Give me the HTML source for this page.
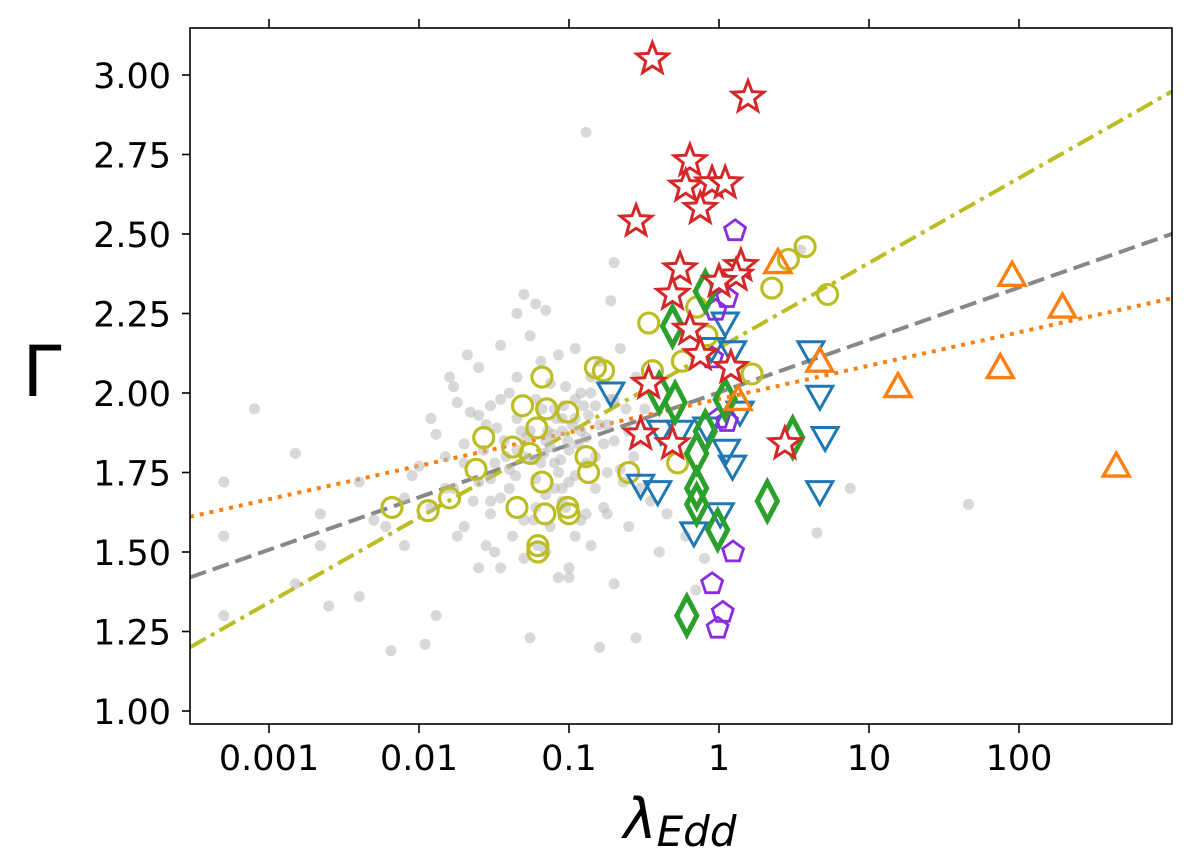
<!DOCTYPE html>
<html><head><meta charset="utf-8"><style>
html,body{margin:0;padding:0;background:#fff;}
svg{display:block;font-family:"DejaVu Sans","Liberation Sans",sans-serif;}
</style></head><body>
<svg id="chart" width="1200" height="868" viewBox="0 0 1200 868" xmlns="http://www.w3.org/2000/svg">
<defs><clipPath id="clip"><rect x="190" y="28" width="982" height="696"/></clipPath></defs>
<rect x="190" y="28" width="982" height="696" fill="#fff"/>
<g id="lines" clip-path="url(#clip)"></g>
<g id="marks" clip-path="url(#clip)"></g>
<rect x="190" y="28" width="982" height="696" fill="none" stroke="#000" stroke-width="1.6"/>
<g id="axes"></g>
<text x="42" y="396" font-size="70" text-anchor="middle">Γ</text>
<text x="680" y="838" font-size="56" font-style="italic" text-anchor="middle">λ<tspan font-size="42" dy="8">Edd</tspan></text>
</svg>
<script>
const xTicks=[0.001,0.01,0.1,1,10,100];
const xTickLabels=["0.001","0.01","0.1","1","10","100"];
const yTicks=[1.00,1.25,1.50,1.75,2.00,2.25,2.50,2.75,3.00];
const yTickLabels=["1.00","1.25","1.50","1.75","2.00","2.25","2.50","2.75","3.00"];
const grayX=[0.0008,0.0005,0.0005,0.0005,0.0015,0.0015,0.0022,0.0022,0.0025,0.004,0.004,0.0065,0.005,0.008,0.009,0.01,0.011,0.012,0.013,0.013,0.015,0.016,0.017,0.018,0.02,0.02,0.021,0.023,0.025,0.025,0.028,0.028,0.03,0.03,0.032,0.035,0.035,0.037,0.04,0.04,0.042,0.045,0.045,0.05,0.05,0.05,0.055,0.055,0.06,0.06,0.06,0.062,0.065,0.07,0.07,0.07,0.075,0.075,0.08,0.08,0.085,0.09,0.09,0.095,0.1,0.1,0.1,0.11,0.11,0.11,0.12,0.12,0.13,0.13,0.13,0.14,0.14,0.15,0.15,0.16,0.16,0.17,0.18,0.18,0.19,0.2,0.2,0.2,0.22,0.22,0.25,0.25,0.28,0.28,0.3,0.32,0.35,0.4,0.45,0.5,0.6,0.7,0.8,3.5,4.5,7.5,46,0.04,0.045,0.055,0.065,0.075,0.085,0.09,0.1,0.12,0.135,0.15,0.06,0.08,0.095,0.03,0.035,0.025,0.017,0.012,0.008,0.006,0.018,0.032,0.05,0.07,0.11,0.085,0.025,0.2,0.24,0.3,0.035,0.045,0.11,0.14,0.18,0.052,0.058,0.068,0.078,0.088,0.098,0.105,0.115,0.125,0.048,0.038,0.033,0.027,0.022,0.044,0.066,0.072,0.082,0.092,0.16,0.19,0.23,0.27,0.015,0.02,0.03,0.058,0.09,0.13,0.17];
const grayY=[1.95,1.72,1.55,1.30,1.81,1.40,1.62,1.52,1.33,1.36,1.72,1.19,1.60,1.52,1.74,1.77,1.21,1.92,1.30,1.87,1.80,2.05,2.02,1.97,1.84,1.58,2.12,1.66,2.08,1.72,1.90,1.52,1.96,1.62,1.78,2.15,1.45,1.85,2.00,1.70,1.55,2.25,1.92,2.31,1.80,1.60,2.18,1.23,2.28,1.98,1.73,1.52,2.10,2.26,1.85,1.68,2.03,1.58,1.95,1.78,2.12,1.88,1.66,2.02,1.82,1.45,1.42,2.14,1.92,1.74,2.00,1.60,2.82,1.86,1.78,2.05,1.52,1.96,1.70,1.20,2.10,1.84,1.90,1.62,2.29,2.41,1.98,1.40,1.76,2.14,1.88,1.58,1.23,2.05,1.70,1.95,1.66,1.50,1.62,1.85,1.55,1.38,1.48,2.45,1.56,1.70,1.65,1.76,1.82,1.88,1.78,1.83,1.75,1.92,1.72,1.88,1.93,1.80,1.64,1.70,1.64,1.73,1.67,1.93,1.70,1.64,1.67,1.58,1.55,1.50,1.48,1.50,1.55,1.42,1.45,1.85,1.95,1.85,1.98,2.05,1.98,2.00,1.75,1.86,1.79,1.81,1.87,1.79,1.85,1.90,1.84,1.96,1.88,1.80,1.89,1.82,1.94,1.74,1.95,1.88,1.92,1.96,1.90,1.98,1.72,1.80,1.70,1.78,1.66,1.60,1.70,1.62,1.64];
const circX=[0.0066,0.0115,0.016,0.024,0.027,0.042,0.049,0.066,0.071,0.061,0.098,0.13,0.135,0.15,0.17,0.066,0.045,0.069,0.098,0.1,0.062,0.062,0.055,0.34,0.36,0.57,0.71,1.66,2.25,2.9,3.75,5.3,0.25,0.53,0.83];
const circY=[1.64,1.63,1.67,1.76,1.86,1.83,1.96,2.05,1.95,1.89,1.94,1.80,1.75,2.08,2.07,1.72,1.64,1.62,1.64,1.62,1.52,1.50,1.81,2.22,2.07,2.10,2.27,2.06,2.33,2.42,2.46,2.31,1.75,1.78,2.18];
const triDownX=[1.1,0.89,1.23,0.19,4.1,4.7,5.1,4.7,0.41,0.3,0.39,1.12,1.23,1.38,0.68,1.02,0.55,0.83];
const triDownY=[2.22,2.14,2.13,2.00,2.13,1.99,1.86,1.69,1.88,1.71,1.69,1.82,1.77,1.94,1.56,1.62,1.88,1.89];
const pentX=[1.28,1.13,0.95,0.9,1.0,1.13,1.24,0.9,1.06,0.98];
const pentY=[2.51,2.30,2.26,2.11,1.92,1.91,1.50,1.40,1.31,1.26];
const diamX=[0.81,0.49,0.40,0.51,1.1,0.81,0.71,0.71,0.71,0.98,2.1,3.1,0.61];
const diamY=[2.32,2.21,2.00,1.97,1.98,1.88,1.81,1.70,1.65,1.57,1.66,1.86,1.30];
const triUpX=[1.34,2.47,90,195,4.7,15.6,75,445];
const triUpY=[1.98,2.41,2.37,2.27,2.10,2.02,2.08,1.77];
const starX=[0.36,1.56,0.64,0.6,0.9,1.1,0.75,0.28,0.55,1.4,1.3,0.49,1.0,0.64,0.34,1.2,0.75,0.3,0.49,2.75];
const starY=[3.05,2.93,2.73,2.65,2.66,2.66,2.58,2.54,2.39,2.40,2.37,2.31,2.35,2.20,2.03,2.08,2.12,1.87,1.84,1.84];
const fitSlopes=[0.165,0.267,0.105];
const fitIntercepts=[2.002,2.142,1.981];

const NS="http://www.w3.org/2000/svg";
const X0=190,X1=1172;
function xs(v){return 719+150*Math.log10(v);}
function ys(v){return 711-(v-1)*318;}
function mk(tag,attrs,parent){const e=document.createElementNS(NS,tag);for(const k in attrs)e.setAttribute(k,attrs[k]);parent.appendChild(e);return e;}
const axes=document.getElementById('axes'),marks=document.getElementById('marks'),lines=document.getElementById('lines');
xTicks.forEach((t,i)=>{const x=xs(t);
 let l=mk('line',{x1:x,x2:x,y1:724,y2:733,stroke:'#000','stroke-width':1.6},axes);
 
 
 let l2=mk('line',{x1:x,x2:x,y1:28,y2:19,stroke:'#000','stroke-width':1.6},axes);
 
 
 let tx=mk('text',{x:x,y:770,'font-size':35,'text-anchor':'middle'},axes);tx.textContent=xTickLabels[i];
 
 
});
yTicks.forEach((t,i)=>{const y=ys(t);
 let l=mk('line',{x1:182,x2:190,y1:y,y2:y,stroke:'#000','stroke-width':1.6},axes);
 
 
 let tx=mk('text',{x:171,y:y+13,'font-size':35,'text-anchor':'end'},axes);tx.textContent=yTickLabels[i];
 
 
});
const lineStyles=[{c:'#888888',d:'17 7',n:'fit-line-all'},{c:'#bcbd22',d:'18 6 4 6',n:'fit-line-circles'},{c:'#ff7f0e',d:'4 6',n:'fit-line-triangles'}];
fitSlopes.forEach((s,i)=>{const la=(X0-719)/150,lb=(X1-719)/150;
 const ln=mk('line',{x1:X0,x2:X1,y1:ys(fitIntercepts[i]+s*la),y2:ys(fitIntercepts[i]+s*lb),stroke:lineStyles[i].c,'stroke-width':4,'stroke-dasharray':lineStyles[i].d},lines);
 
 
});
grayX.forEach((v,i)=>{const c=mk('circle',{cx:xs(v),cy:ys(grayY[i]),r:5.5,fill:'#b8b8b8','fill-opacity':0.55},marks);
 
 
});
function poly(pts){return pts.map(p=>p[0].toFixed(1)+','+p[1].toFixed(1)).join(' ');}
function draw(xArr,yArr,name,shape,color,sw,fill){xArr.forEach((v,i)=>{const x=xs(v),y=ys(yArr[i]);let e;
 if(shape==='circle')e=mk('circle',{cx:x,cy:y,r:10,fill:fill,stroke:color,'stroke-width':sw},marks);
 else{let pts=[];
  if(shape==='star'){for(let k=0;k<10;k++){const r=k%2?7:16.5,a=-Math.PI/2+k*Math.PI/5;pts.push([x+r*Math.cos(a),y+r*Math.sin(a)]);}}
  else if(shape==='pent'){for(let k=0;k<5;k++){const a=-Math.PI/2+k*2*Math.PI/5;pts.push([x+11*Math.cos(a),y+11*Math.sin(a)]);}}
  else if(shape==='down')pts=[[x-13,y-10],[x+13,y-10],[x,y+13]];
  else if(shape==='up')pts=[[x-13,y+10],[x+13,y+10],[x,y-13]];
  else if(shape==='diam')pts=[[x,y-19],[x+10,y],[x,y+19],[x-10,y]];
  e=mk('polygon',{points:poly(pts),fill:fill,stroke:color,'stroke-width':sw,'stroke-linejoin':'miter'},marks);}
 
 
});}
draw(circX,circY,'circle-point','circle','#bcbd22',3.2,'none');
draw(triDownX,triDownY,'down-triangle-point','down','#1f77b4',3,'none');
draw(pentX,pentY,'pentagon-point','pent','#8a2be2',2.8,'none');
draw(diamX,diamY,'diamond-point','diam','#2ca02c',5,'none');
draw(triUpX,triUpY,'up-triangle-point','up','#ff7f0e',3.4,'none');
draw(starX,starY,'star-point','star','#d62728',3,'#fff');
</script>
</body></html>
